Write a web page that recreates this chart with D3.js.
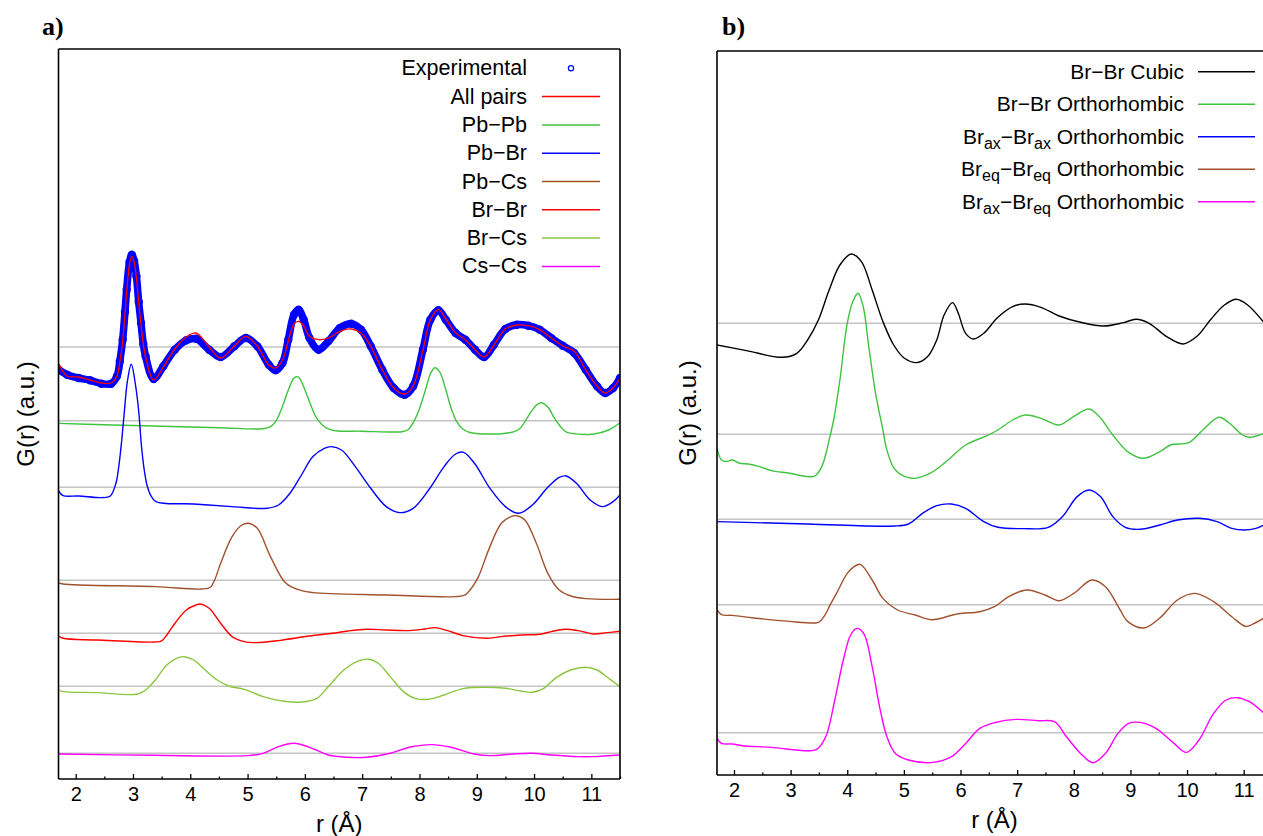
<!DOCTYPE html>
<html>
<head>
<meta charset="utf-8">
<script src="https://cdn.jsdelivr.net/npm/d3@7"></script>
<style>
  html, body { margin: 0; padding: 0; background: #fff; }
  svg { display: block; font-family: "Liberation Sans", Arial, Helvetica, sans-serif; }
</style>
</head>
<body>
<svg id="chart" width="1263" height="836"></svg>
<script>
// ---------------- DATA (r in Å, G(r) in a.u., relative to each curve's own baseline) ----------------
// Panel a
const expR = [1.7,1.85,2.05,2.25,2.45,2.62,2.72,2.77,2.82,2.86,2.89,2.94,2.98,3.02,3.06,3.10,3.14,3.18,3.22,3.36,3.53,3.73,3.93,4.10,4.33,4.53,4.77,4.97,5.17,5.37,5.49,5.61,5.71,5.81,5.89,5.98,6.08,6.24,6.41,6.61,6.81,6.98,7.15,7.35,7.55,7.74,7.89,8.06,8.19,8.33,8.46,8.63,8.80,8.97,9.13,9.30,9.50,9.70,9.90,10.1,10.3,10.5,10.7,10.9,11.1,11.24,11.38,11.5];
const expG = [-2.27,-2.77,-3.1,-3.33,-3.67,-3.67,-2.93,-1.44,0.73,3.5,5.73,8.5,9.23,8.6,7.07,4.5,2.4,0.3,-0.93,-3.2,-1.93,-0.27,0.67,0.83,-0.27,-1.0,0.07,0.9,0.07,-1.77,-2.33,-1.6,0.73,3.23,3.73,2.73,0.9,-0.27,0.57,1.9,2.33,1.73,0.07,-2.27,-4.1,-4.77,-3.93,-0.27,2.73,3.67,2.73,1.4,0.73,-0.27,-1.0,0.23,1.8,2.23,2.13,1.73,0.9,0.13,-0.6,-2.27,-3.93,-4.6,-4.1,-3.1];
const allPairsG = [-1.6,-2.9,-3.0,-3.3,-3.6,-3.6,-2.9,-1.5,0.6,3.3,5.5,8.3,9.07,8.5,6.9,4.4,2.2,0.3,-1.0,-3.3,-2.0,-0.2,1.0,1.4,0.0,-1.1,0.1,1.07,0.1,-1.8,-2.1,-1.3,0.6,2.3,2.57,2.1,1.07,0.73,0.9,1.57,1.8,1.4,0.07,-2.27,-4.1,-4.7,-3.9,-0.3,2.7,3.73,2.8,1.4,0.73,-0.27,-1.0,0.2,1.8,2.2,2.13,1.73,0.9,0.13,-0.43,-2.27,-3.9,-4.6,-4.1,-3.1];

const pbpbR = [1.7,2.5,3.5,4.5,5.27,5.4,5.5,5.6,5.7,5.8,5.85,5.9,6.0,6.1,6.2,6.3,6.4,6.53,7.0,7.69,7.8,7.9,8.0,8.1,8.2,8.27,8.35,8.45,8.55,8.65,8.75,8.9,9.57,9.75,9.85,9.95,10.05,10.13,10.25,10.35,10.45,10.55,10.65,11.04,11.3,11.5];
const pbpbG = [-0.27,-0.4,-0.55,-0.7,-0.8,-0.6,0.0,1.3,2.9,4.2,4.4,4.3,3.1,1.6,0.3,-0.4,-0.8,-1.0,-1.05,-1.1,-0.9,-0.1,1.2,3.0,4.8,5.3,4.9,3.3,1.3,-0.1,-0.8,-1.2,-1.2,-0.8,0.0,0.9,1.6,1.8,1.3,0.3,-0.5,-1.1,-1.27,-1.33,-0.93,-0.2];

const pbbrR = [1.7,1.78,2.05,2.45,2.6,2.7,2.75,2.8,2.85,2.9,2.97,3.05,3.1,3.15,3.2,3.25,3.3,3.4,4.06,4.73,5.34,5.54,5.74,5.94,6.14,6.34,6.46,6.64,6.88,7.15,7.42,7.65,7.89,8.16,8.43,8.63,8.77,8.96,9.23,9.5,9.73,9.97,10.24,10.44,10.56,10.74,10.98,11.19,11.38,11.5];
const pbbrG = [-0.33,-0.83,-0.87,-1.03,-0.9,0.36,2.0,4.5,7.6,10.5,12.3,10.0,7.6,4.0,1.6,0.1,-0.7,-1.43,-1.67,-1.93,-2.1,-1.77,-0.6,1.23,3.07,3.9,4.07,3.73,2.07,-0.1,-1.93,-2.53,-2.1,-0.27,2.07,3.33,3.5,2.4,-0.1,-1.93,-2.6,-1.77,0,1.0,1.13,0.4,-1.27,-1.93,-1.43,-0.77];

const pbcsR = [1.7,1.78,3.39,4.2,4.35,4.43,4.53,4.73,4.9,5.02,5.17,5.4,5.67,5.94,6.14,7.42,8.63,8.8,8.93,9.03,9.23,9.43,9.6,9.69,9.84,10.04,10.24,10.44,10.64,10.9,11.5];
const pbcsG = [-0.23,-0.37,-0.63,-0.87,-0.7,0.1,1.7,4.37,5.53,5.7,5.2,2.37,-0.3,-1.03,-1.23,-1.47,-1.63,-1.45,-0.6,0.37,3.37,5.7,6.37,6.47,6.03,3.7,0.7,-0.97,-1.57,-1.83,-1.9];

const brbrR = [1.7,1.78,2.38,3.39,3.5,3.6,3.69,3.93,4.1,4.18,4.33,4.53,4.73,4.94,5.14,5.54,6.08,6.48,6.75,7.08,7.42,7.82,8.09,8.26,8.49,8.76,9.16,9.43,9.77,10.1,10.3,10.54,10.77,11.04,11.28,11.5];
const brbrG = [-0.27,-0.5,-0.67,-0.87,-0.75,-0.1,0.67,2.33,2.83,2.93,2.5,1.0,-0.33,-0.83,-0.93,-0.73,-0.27,0,0.23,0.4,0.33,0.27,0.43,0.57,0.27,-0.23,-0.5,-0.33,-0.17,-0.1,0.17,0.4,0.27,-0.07,0.07,0.2];

const brcsR = [1.7,1.78,2.38,3.06,3.2,3.3,3.39,3.59,3.76,3.87,4.06,4.26,4.47,4.67,4.94,5.27,5.61,5.94,6.21,6.41,6.68,6.95,7.12,7.28,7.49,7.72,7.92,8.16,8.43,8.76,9.16,9.5,9.77,9.97,10.17,10.37,10.64,10.9,11.1,11.3,11.5];
const brcsG = [-0.37,-0.53,-0.63,-0.8,-0.45,0.05,0.63,2.13,2.8,2.97,2.63,1.63,0.63,0.03,-0.3,-1.03,-1.47,-1.57,-1.2,-0.03,1.63,2.57,2.7,2.3,0.97,-0.53,-1.2,-1.3,-0.87,-0.23,-0.1,-0.2,-0.47,-0.6,-0.2,0.8,1.63,1.9,1.63,0.8,-0.03];

const cscsR = [1.7,3.39,5.0,5.27,5.54,5.81,6.08,6.41,6.75,7.08,7.49,7.82,8.22,8.55,8.96,9.23,9.63,9.97,10.3,10.77,11.04,11.5];
const cscsG = [-0.07,-0.2,-0.23,0,0.67,1.0,0.6,-0.17,-0.4,-0.4,0,0.6,0.87,0.6,-0.07,-0.23,-0.07,0,-0.17,-0.33,-0.33,-0.17];

// vertical offsets (a.u.) of the baselines, panel a: experimental/all pairs, Pb-Pb, Pb-Br, Pb-Cs, Br-Br, Br-Cs, Cs-Cs
const offsetsA = [43.2, 35.83, 29.17, 19.87, 14.57, 9.27, 2.57];

// Panel b
const cubicR = [1.7,2.22,2.85,3.11,3.3,3.49,3.68,3.87,4.07,4.25,4.44,4.63,4.82,5.01,5.23,5.42,5.58,5.71,5.86,5.96,6.09,6.23,6.41,6.66,6.92,7.14,7.42,7.74,8.12,8.53,8.88,9.1,9.33,9.64,9.93,10.18,10.41,10.66,10.87,11.07,11.36];
const cubicG = [-2.17,-2.73,-3.4,-3.0,-1.67,0.33,3.33,5.83,6.93,6.17,3.33,0.17,-2.17,-3.5,-3.93,-3.33,-1.67,0.83,2.07,1.0,-1.0,-1.57,-1.0,0.6,1.67,1.93,1.6,0.73,0.1,-0.27,0.07,0.4,0,-1.33,-2.07,-1.27,0.33,1.83,2.4,1.83,0.05];

const orthoR = [1.7,1.78,1.86,1.97,2.1,2.25,2.45,2.66,2.98,3.3,3.43,3.55,3.62,3.68,3.76,3.87,4.0,4.1,4.19,4.28,4.38,4.5,4.63,4.7,4.85,5.14,5.46,5.78,6.09,6.47,6.66,6.92,7.14,7.42,7.74,8.0,8.27,8.45,8.69,8.95,9.23,9.52,9.71,10.03,10.28,10.56,10.75,10.98,11.1,11.36];
const orthoG = [-1.4,-2.57,-2.73,-2.57,-2.9,-2.97,-3.23,-3.63,-3.9,-4.23,-4.17,-3.23,-2.0,-0.57,1.43,5.43,11.1,13.3,14.1,12.8,8.77,4.1,0.43,-1.57,-3.57,-4.4,-3.9,-2.57,-1.07,-0.13,0.43,1.43,1.93,1.6,0.93,1.8,2.53,1.77,-0.07,-1.73,-2.4,-1.73,-1.07,-0.83,0.43,1.7,1.1,-0.07,-0.3,0.1];

const axaxR = [1.7,3.3,4.82,5.08,5.33,5.58,5.84,6.09,6.41,6.66,7.11,7.55,7.8,8.06,8.27,8.47,8.69,8.91,9.17,9.52,9.83,10.22,10.53,10.79,11.01,11.2,11.36];
const axaxG = [-0.23,-0.47,-0.67,-0.47,0.6,1.37,1.53,1.1,-0.23,-0.8,-0.93,-0.8,0.27,2.27,2.93,2.27,0.27,-0.8,-1.0,-0.57,-0.07,0.1,-0.23,-0.9,-1.07,-0.93,-0.57];

const eqeqR = [1.7,1.78,1.97,2.35,2.98,3.43,3.5,3.6,3.7,3.81,4.0,4.12,4.23,4.44,4.63,4.89,5.2,5.49,5.96,6.34,6.6,6.85,7.17,7.49,7.74,8.0,8.32,8.56,8.82,8.95,9.24,9.52,9.83,10.14,10.47,10.79,11.04,11.2,11.36];
const eqeqG = [-0.5,-1.0,-1.07,-1.33,-1.67,-1.83,-1.75,-1.1,0.0,1.13,3.13,3.8,4.03,2.47,0.63,-0.53,-1.03,-1.5,-0.9,-0.7,-0.2,0.8,1.47,0.97,0.4,1.13,2.47,1.8,-0.53,-1.67,-2.33,-1.33,0.47,1.13,0.3,-1.2,-2.17,-1.83,-1.33];

const axeqR = [1.7,1.78,1.97,2.15,2.66,3.3,3.46,3.62,3.78,3.93,4.06,4.17,4.29,4.44,4.57,4.7,4.85,5.08,5.52,5.84,6.09,6.34,6.6,6.98,7.37,7.66,7.87,8.12,8.34,8.56,8.78,8.97,9.17,9.45,9.77,9.99,10.21,10.47,10.69,10.88,11.1,11.36];
const axeqG = [-0.57,-1.07,-1.13,-1.3,-1.47,-1.8,-1.67,-0.4,3.27,7.27,9.77,10.43,9.93,6.6,2.6,-0.4,-2.07,-2.73,-2.97,-2.4,-1.07,0.43,1.0,1.33,1.2,1.1,-0.4,-2.07,-3.0,-2.07,-0.07,0.93,1.03,0.43,-1.07,-1.97,-0.73,1.93,3.27,3.5,3.1,1.93];

// baselines panel b: cubic, ortho, ax-ax, eq-eq, ax-eq
const offsetsB = [45.17, 34.07, 25.57, 17.03, 4.23];

const xTicks = [2,3,4,5,6,7,8,9,10,11];
const xMinorTicks = [2.5,3.5,4.5,5.5,6.5,7.5,8.5,9.5,10.5,11.5];

const legendA = ["Experimental","All pairs","Pb\u2212Pb","Pb\u2212Br","Pb\u2212Cs","Br\u2212Br","Br\u2212Cs","Cs\u2212Cs"];
const legendB = [
  [["Br\u2212Br Cubic",0]],
  [["Br\u2212Br Orthorhombic",0]],
  [["Br",0],["ax",1],["\u2212Br",0],["ax",1],[" Orthorhombic",0]],
  [["Br",0],["eq",1],["\u2212Br",0],["eq",1],[" Orthorhombic",0]],
  [["Br",0],["ax",1],["\u2212Br",0],["eq",1],[" Orthorhombic",0]]
];

// ---------------- DRAWING ----------------
const svg = d3.select("#chart");
svg.append("rect").attr("width",1263).attr("height",836).attr("fill","#fff");

const cA = {green:"#3fc43f", blue:"#0000ff", brown:"#a0522d", red:"#ff0000", ygreen:"#8cc63f", magenta:"#ff00ff"};
const curveType = d3.curveCatmullRom.alpha(0.5);

function makePanel(opts) {
  const g = svg.append("g");
  const x = d3.scaleLinear().domain([1.7, 11.5]).range([opts.left, opts.right]);
  const y = d3.scaleLinear().domain([0, (opts.bottom - opts.top) / 10]).range([opts.bottom, opts.top]);
  const clipId = "clip" + opts.id;
  svg.append("clipPath").attr("id", clipId).append("rect")
    .attr("x", opts.left).attr("y", opts.top)
    .attr("width", Math.min(opts.right, 1263) - opts.left).attr("height", opts.bottom - opts.top);
  const plot = g.append("g").attr("clip-path", `url(#${clipId})`);
  return {g, x, y, plot};
}

function drawBaselines(P, offsets) {
  P.plot.selectAll("line.base").data(offsets).enter().append("line")
    .attr("x1", P.x(1.7)).attr("x2", P.x(11.5))
    .attr("y1", d => P.y(d)).attr("y2", d => P.y(d))
    .attr("stroke", "#c4c4c4").attr("stroke-width", 1.4);
}

function drawCurve(P, rs, gs, off, color, w) {
  const pts = rs.map((r, i) => [r, gs[i] + off]);
  const line = d3.line().x(d => P.x(d[0])).y(d => P.y(d[1])).curve(curveType);
  P.plot.append("path").attr("d", line(pts)).attr("fill", "none")
    .attr("stroke", color).attr("stroke-width", w || 1.4).attr("stroke-linejoin", "round");
}

function drawAxes(P, opts) {
  const ax = d3.axisBottom(P.x).tickValues(xTicks).tickSizeInner(-5).tickSizeOuter(0).tickPadding(8).tickFormat(d3.format("d"));
  const axG = P.g.append("g").attr("transform", `translate(0,${opts.bottom})`).call(ax);
  axG.select(".domain").remove();
  axG.selectAll(".tick line").attr("stroke", "#000").attr("stroke-width", 1.3);
  axG.selectAll(".tick text").attr("font-size", 20).attr("fill", "#000")
    .attr("font-family", "'Liberation Sans', Arial, sans-serif");
  const axm = d3.axisBottom(P.x).tickValues(xMinorTicks).tickSizeInner(-2.5).tickSizeOuter(0).tickFormat("");
  const amG = P.g.append("g").attr("transform", `translate(0,${opts.bottom})`).call(axm);
  amG.select(".domain").remove();
  amG.selectAll(".tick line").attr("stroke", "#000").attr("stroke-width", 1.3);
  // frame
  const f = P.g.append("g").attr("stroke", "#000").attr("stroke-width", 1.6).attr("fill", "none");
  f.append("line").attr("x1", opts.left).attr("x2", opts.right).attr("y1", opts.bottom).attr("y2", opts.bottom);
  f.append("line").attr("x1", opts.left).attr("x2", opts.right).attr("y1", opts.top).attr("y2", opts.top);
  f.append("line").attr("x1", opts.left).attr("x2", opts.left).attr("y1", opts.top).attr("y2", opts.bottom);
  if (opts.rightBorder) f.append("line").attr("x1", opts.right).attr("x2", opts.right).attr("y1", opts.top).attr("y2", opts.bottom);
  // titles
  P.g.append("text").attr("x", (opts.left + opts.right) / 2).attr("y", opts.xTitleY)
    .attr("text-anchor", "middle").attr("font-size", 24).text("r (\u00C5)");
  P.g.append("text").attr("transform", `translate(${opts.yTitleX},${(opts.top + opts.bottom) / 2}) rotate(-90)`)
    .attr("text-anchor", "middle").attr("dominant-baseline", "central").attr("font-size", 24).text("G(r) (a.u.)");
  P.g.append("text").attr("x", opts.tagX).attr("y", 35)
    .attr("font-family", "'Liberation Serif', 'Times New Roman', serif").attr("font-weight", "bold")
    .attr("font-size", 26).text(opts.tag);
}

// ---- Panel a ----
const optA = {id:"a", left:58.5, right:620, top:49, bottom:779, rightBorder:true, xTitleY:832, yTitleX:25, tagX:42, tag:"a)"};
const PA = makePanel(optA);
drawBaselines(PA, offsetsA);

// experimental: thick band + open circles
const expPts = expR.map((r, i) => [r, expG[i] + offsetsA[0]]);
PA.plot.append("path")
  .attr("d", d3.line().x(d => PA.x(d[0])).y(d => PA.y(d[1])).curve(curveType)(expPts))
  .attr("fill", "none").attr("stroke", "#0000ff").attr("stroke-width", 7.5).attr("stroke-linejoin", "round").attr("stroke-linecap", "round");
PA.plot.selectAll("circle.exp").data(expPts).enter().append("circle")
  .attr("cx", d => PA.x(d[0])).attr("cy", d => PA.y(d[1])).attr("r", 3.6)
  .attr("fill", "none").attr("stroke", "#0000ff").attr("stroke-width", 1.2);
drawCurve(PA, expR, allPairsG, offsetsA[0], cA.red, 1.3);
drawCurve(PA, pbpbR, pbpbG, offsetsA[1], cA.green);
drawCurve(PA, pbbrR, pbbrG, offsetsA[2], cA.blue);
drawCurve(PA, pbcsR, pbcsG, offsetsA[3], cA.brown);
drawCurve(PA, brbrR, brbrG, offsetsA[4], cA.red);
drawCurve(PA, brcsR, brcsG, offsetsA[5], cA.ygreen);
drawCurve(PA, cscsR, cscsG, offsetsA[6], cA.magenta);
drawAxes(PA, optA);

// legend a
const legColorsA = [null, cA.red, cA.green, cA.blue, cA.brown, cA.red, cA.ygreen, cA.magenta];
const lgA = PA.g.append("g");
legendA.forEach((lab, i) => {
  const yy = 68.3 + i * 28.3;
  lgA.append("text").attr("x", 527).attr("y", yy).attr("text-anchor", "end")
    .attr("dominant-baseline", "central").attr("font-size", 21.5).text(lab);
  if (i === 0) {
    lgA.append("circle").attr("cx", 571).attr("cy", yy).attr("r", 2.6)
      .attr("fill", "none").attr("stroke", "#0000ff").attr("stroke-width", 1.2);
  } else {
    lgA.append("line").attr("x1", 542).attr("x2", 600).attr("y1", yy).attr("y2", yy)
      .attr("stroke", legColorsA[i]).attr("stroke-width", 1.5);
  }
});

// ---- Panel b ----
const optB = {id:"b", left:717, right:1272, top:51, bottom:775, rightBorder:false, xTitleY:828, yTitleX:687, tagX:722, tag:"b)"};
const PB = makePanel(optB);
drawBaselines(PB, offsetsB);
const colB = ["#000000", cA.green, cA.blue, cA.brown, cA.magenta];
drawCurve(PB, cubicR, cubicG, offsetsB[0], colB[0]);
drawCurve(PB, orthoR, orthoG, offsetsB[1], colB[1]);
drawCurve(PB, axaxR, axaxG, offsetsB[2], colB[2]);
drawCurve(PB, eqeqR, eqeqG, offsetsB[3], colB[3]);
drawCurve(PB, axeqR, axeqG, offsetsB[4], colB[4]);
drawAxes(PB, optB);

const lgB = PB.g.append("g");
legendB.forEach((segs, i) => {
  const yy = 71.7 + i * 32.5;
  const t = lgB.append("text").attr("x", 1184).attr("y", yy + 7).attr("text-anchor", "end").attr("font-size", 21);
  segs.forEach(([s, sub]) => {
    if (sub) t.append("tspan").attr("font-size", 16).attr("baseline-shift", "-30%").text(s);
    else t.append("tspan").text(s);
  });
  lgB.append("line").attr("x1", 1198).attr("x2", 1255).attr("y1", yy).attr("y2", yy)
    .attr("stroke", colB[i]).attr("stroke-width", 1.5);
});
</script>
</body>
</html>
